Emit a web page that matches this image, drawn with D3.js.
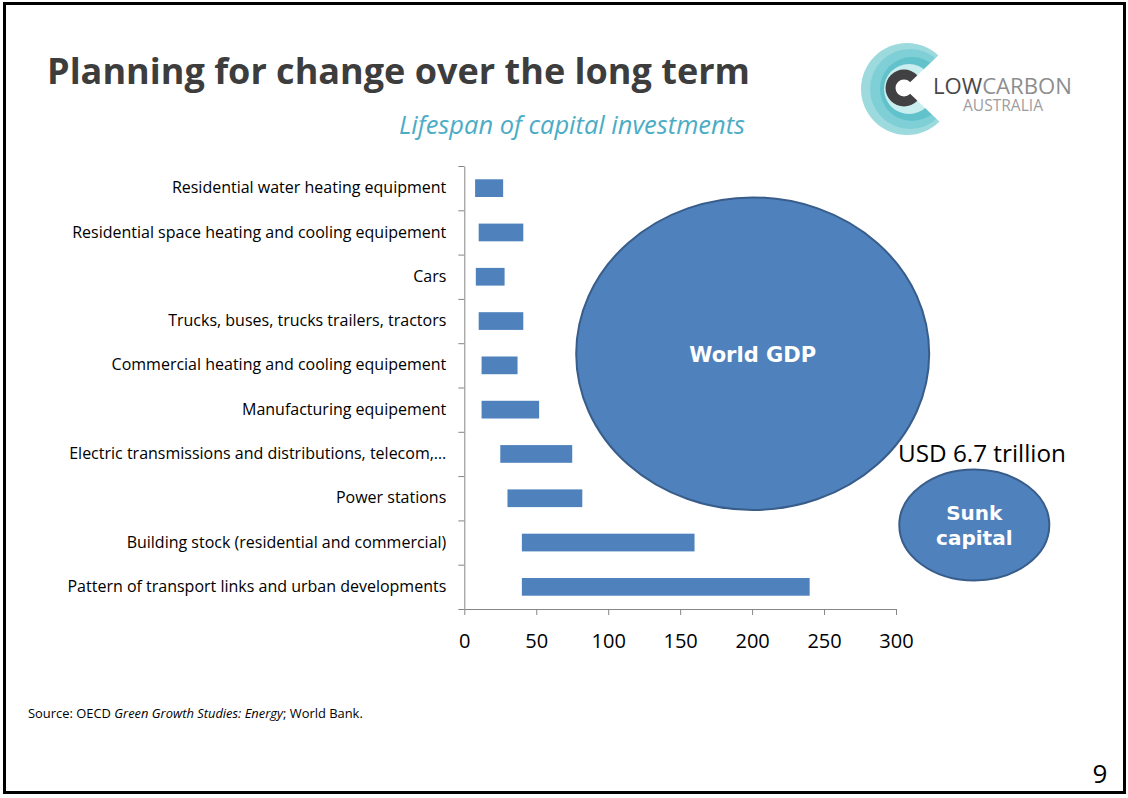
<!DOCTYPE html>
<html>
<head>
<meta charset="utf-8">
<script src="https://cdn.jsdelivr.net/npm/d3@7"></script>
<style>
  body { margin: 0; background: #fff; }
  svg { font-family: "Open Sans", sans-serif; }
</style>
</head>
<body>
<div id="chart"></div>
<script>
// Lifespan of capital investments, in years. Each bar floats from start to end.
var categories = [
  'Residential water heating equipment',
  'Residential space heating and cooling equipement',
  'Cars',
  'Trucks, buses, trucks trailers, tractors',
  'Commercial heating and cooling equipement',
  'Manufacturing equipement',
  'Electric transmissions and distributions, telecom,\u2026',
  'Power stations',
  'Building stock (residential and commercial)',
  'Pattern of transport links and urban developments'
];
var lifeStart = [7.5, 10, 8, 10, 12, 12, 25, 30, 40, 40];
var lifeEnd = [27, 41, 28, 41, 37, 52, 75, 82, 160, 240];
var xTicks = [0, 50, 100, 150, 200, 250, 300];

var W = 1128, H = 798;
var blue = '#4F81BD', blueEdge = '#385D8A', axisGrey = '#868686';
var verdana = '"DejaVu Sans", Verdana, sans-serif';

var svg = d3.select('#chart').append('svg')
            .attr('width', W)
            .attr('height', H);

// scale the font so the text takes the given width
function fitWidth(sel, w) {
  var len = sel.node().getComputedTextLength();
  var fs = parseFloat(sel.attr('font-size'));
  sel.attr('font-size', (fs * w / len).toFixed(2));
  return sel;
}

// slide frame
svg.append('rect')
   .attr('x', 4.5).attr('y', 3.5)
   .attr('width', 1120).attr('height', 789)
   .attr('fill', 'none')
   .attr('stroke', '#000')
   .attr('stroke-width', 3);

// titles
fitWidth(svg.append('text')
   .attr('x', 47).attr('y', 84)
   .attr('font-size', 32)
   .attr('font-weight', 700)
   .attr('fill', '#3d3d3d')
   .text('Planning for change over the long term'), 703);

fitWidth(svg.append('text')
   .attr('x', 745).attr('y', 134)
   .attr('text-anchor', 'end')
   .attr('font-size', 21)
   .attr('font-style', 'italic')
   .attr('fill', '#4BACC6')
   .text('Lifespan of capital investments'), 346);

// ---- logo ----
var logo = svg.append('g').attr('class', 'logo');
logo.append('circle').attr('cx', 907).attr('cy', 89).attr('r', 46).attr('fill', '#9cdade');
logo.append('circle').attr('cx', 910).attr('cy', 89).attr('r', 40).attr('fill', '#7fcfd6');
logo.append('circle').attr('cx', 912).attr('cy', 89).attr('r', 32).attr('fill', '#62c2cb');
logo.append('circle').attr('cx', 909).attr('cy', 89).attr('r', 25).attr('fill', '#c9eef0');
logo.append('circle').attr('cx', 904).attr('cy', 88).attr('r', 18.5).attr('fill', '#414042');
logo.append('circle').attr('cx', 904).attr('cy', 88).attr('r', 8.5).attr('fill', '#fff');
// the opening of the C
logo.append('path')
    .attr('d', 'M904,88 L962,33 L962,143 Z')
    .attr('fill', '#fff');

var brand = logo.append('text')
    .attr('x', 933).attr('y', 94)
    .attr('font-size', 20);
brand.append('tspan').attr('fill', '#48484a').text('LOW');
brand.append('tspan').attr('fill', '#8e8e90').text('CARBON');
fitWidth(brand, 139);

fitWidth(logo.append('text')
    .attr('x', 963).attr('y', 111)
    .attr('font-size', 15)
    .attr('fill', '#9d9d9f')
    .text('AUSTRALIA'), 80);

// ---- bar chart ----
var x = d3.scaleLinear().domain([0, 300]).range([464.3, 896]);
var y = d3.scaleBand().domain(categories).range([166, 609]);
var yEdges = d3.scaleLinear().domain([0, categories.length]).range([166, 609]);

// category boundary ticks
svg.append('g')
   .attr('class', 'yaxisWrapper')
   .attr('transform', 'translate(' + x(0) + ',0)')
   .call(d3.axisLeft(yEdges)
           .tickValues(d3.range(categories.length + 1))
           .tickSize(6)
           .tickSizeOuter(0)
           .tickFormat(''));

// category labels
var yLabels = svg.append('g')
   .attr('class', 'yLabels')
   .attr('transform', 'translate(' + x(0) + ',0)')
   .call(d3.axisLeft(y).tickSize(0).tickPadding(18));
yLabels.select('.domain').remove();
yLabels.attr('font-family', null).attr('font-size', null);
yLabels.selectAll('text')
   .attr('font-size', 16)
   .attr('fill', '#000');

var xAxis = svg.append('g')
   .attr('class', 'xaxisWrapper')
   .attr('transform', 'translate(0,609)')
   .call(d3.axisBottom(x)
           .tickValues(xTicks)
           .tickSize(6)
           .tickSizeOuter(0));
xAxis.attr('font-family', null).attr('font-size', null);
xAxis.selectAll('text')
   .attr('y', 25)
   .attr('font-size', 20)
   .attr('fill', '#000');

svg.selectAll('.yaxisWrapper path, .yaxisWrapper line, .xaxisWrapper path, .xaxisWrapper line')
   .attr('stroke', axisGrey);

var barH = y.bandwidth() * 0.4;
svg.append('g').attr('class', 'bars')
   .selectAll('rect')
   .data(categories)
   .enter()
   .append('rect')
   .attr('x', function(d, i) { return x(lifeStart[i]); })
   .attr('width', function(d, i) { return x(lifeEnd[i]) - x(lifeStart[i]); })
   .attr('y', function(d) { return y(d) + (y.bandwidth() - barH) / 2; })
   .attr('height', barH)
   .attr('fill', blue);

// ---- GDP vs sunk capital bubbles ----
svg.append('ellipse')
   .attr('cx', 752.7).attr('cy', 353.7)
   .attr('rx', 176.5).attr('ry', 156.3)
   .attr('fill', blue)
   .attr('stroke', blueEdge)
   .attr('stroke-width', 2);

fitWidth(svg.append('text')
   .attr('x', 752.7).attr('y', 354)
   .attr('dy', '0.36em')
   .attr('text-anchor', 'middle')
   .style('font-family', verdana)
   .attr('font-weight', 700)
   .attr('font-size', 20)
   .attr('fill', '#fff')
   .text('World GDP'), 127);

fitWidth(svg.append('text')
   .attr('x', 898).attr('y', 462)
   .attr('font-size', 22)
   .attr('fill', '#000')
   .text('USD 6.7 trillion'), 168);

svg.append('ellipse')
   .attr('cx', 974.3).attr('cy', 525)
   .attr('rx', 75).attr('ry', 55.5)
   .attr('fill', blue)
   .attr('stroke', blueEdge)
   .attr('stroke-width', 2);

svg.selectAll('text.sunk')
   .data(['Sunk', 'capital'])
   .enter()
   .append('text')
   .attr('class', 'sunk')
   .attr('x', 974.3)
   .attr('y', function(d, i) { return 513 + i * 25; })
   .attr('dy', '0.36em')
   .attr('text-anchor', 'middle')
   .style('font-family', verdana)
   .attr('font-weight', 700)
   .attr('font-size', 20)
   .attr('fill', '#fff')
   .text(function(d) { return d; });

// ---- footer ----
var source = svg.append('text')
   .attr('x', 28).attr('y', 718)
   .attr('font-size', 11.5)
   .attr('fill', '#000');
source.append('tspan').text('Source: OECD ');
source.append('tspan').attr('font-style', 'italic').text('Green Growth Studies: Energy');
source.append('tspan').text('; World Bank.');
fitWidth(source, 335);

svg.append('text')
   .attr('x', 1100).attr('y', 783)
   .attr('text-anchor', 'middle')
   .attr('font-size', 26)
   .attr('fill', '#000')
   .text('9');
</script>
</body>
</html>
